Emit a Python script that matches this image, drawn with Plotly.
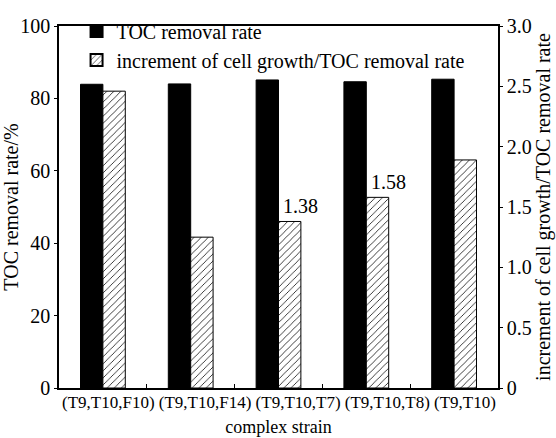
import plotly.graph_objects as go

categories = ["(T9,T10,F10)", "(T9,T10,F14)", "(T9,T10,T7)", "(T9,T10,T8)", "(T9,T10)"]
toc_removal = [83.9, 84.0, 85.1, 84.6, 85.3]
ratio = [2.46, 1.25, 1.38, 1.58, 1.89]
ratio_labels = ["", "", "1.38", "1.58", ""]
left_ticks = [0, 20, 40, 60, 80, 100]
right_ticks = [0, 0.5, 1.0, 1.5, 2.0, 2.5, 3.0]
right_ticktext = ["0", "0.5", "1.0", "1.5", "2.0", "2.5", "3.0"]

FONT = "Liberation Serif"
BW = 0.255

fig = go.Figure()
fig.add_trace(go.Bar(
    x=categories, y=toc_removal, name="TOC removal rate",
    marker=dict(color="black", line=dict(color="black", width=1)),
    width=BW, offset=-BW, yaxis="y",
))
fig.add_trace(go.Bar(
    x=categories, y=ratio, name="increment of cell growth/TOC removal rate",
    marker=dict(color="white", line=dict(color="black", width=1),
                pattern=dict(shape="/", fgcolor="black", bgcolor="white", size=5, solidity=0.15)),
    width=BW, offset=0, yaxis="y2",
))

for c, v, t in zip(categories, ratio, ratio_labels):
    if t:
        fig.add_annotation(x=c, y=v, xref="x", yref="y2", text=t, showarrow=False,
                           xanchor="center", yanchor="bottom", xshift=22, yshift=2,
                           font=dict(family=FONT, size=20, color="black"))

# category labels set as one centred line, as in the original figure
fig.add_annotation(x=0.5, y=0, xref="paper", yref="paper", text=" ".join(categories),
                   showarrow=False, xanchor="center", yanchor="top", yshift=-3,
                   font=dict(family=FONT, size=17, color="black"))

fig.update_layout(
    template="none",
    width=556, height=438,
    margin=dict(l=59, r=58, t=13, b=50),
    paper_bgcolor="white", plot_bgcolor="white",
    font=dict(family=FONT, size=20, color="black"),
    showlegend=True,
    legend=dict(x=0.04, y=1.04, xanchor="left", yanchor="top", bgcolor="rgba(0,0,0,0)",
                borderwidth=0, font=dict(family=FONT, size=20),
                tracegroupgap=0, itemsizing="constant"),
    xaxis=dict(
        type="category", showline=True, linecolor="black", linewidth=1.5, mirror=True,
        ticks="inside", tickson="boundaries", ticklen=4, tickcolor="black",
        showticklabels=False, automargin=False,
        title=dict(text="complex strain", font=dict(family=FONT, size=18), standoff=32),
        showgrid=False,
    ),
    yaxis=dict(
        range=[0, 100], tickvals=left_ticks, showline=True, linecolor="black", linewidth=1.5,
        ticks="outside", ticklen=3, tickcolor="black", showgrid=False, zeroline=False,
        automargin=False,
        tickfont=dict(family=FONT, size=20),
        title=dict(text="TOC removal rate/%", font=dict(family=FONT, size=20), standoff=0),
    ),
    yaxis2=dict(
        range=[0, 3], tickvals=right_ticks, ticktext=right_ticktext, overlaying="y", side="right",
        showline=True, linecolor="black", linewidth=1.5, ticks="outside", ticklen=3,
        tickcolor="black", showgrid=False, zeroline=False, automargin=False,
        tickfont=dict(family=FONT, size=20),
        title=dict(text="increment of cell growth/TOC removal rate", font=dict(family=FONT, size=20), standoff=2),
    ),
)

fig.write_html("out.html")
